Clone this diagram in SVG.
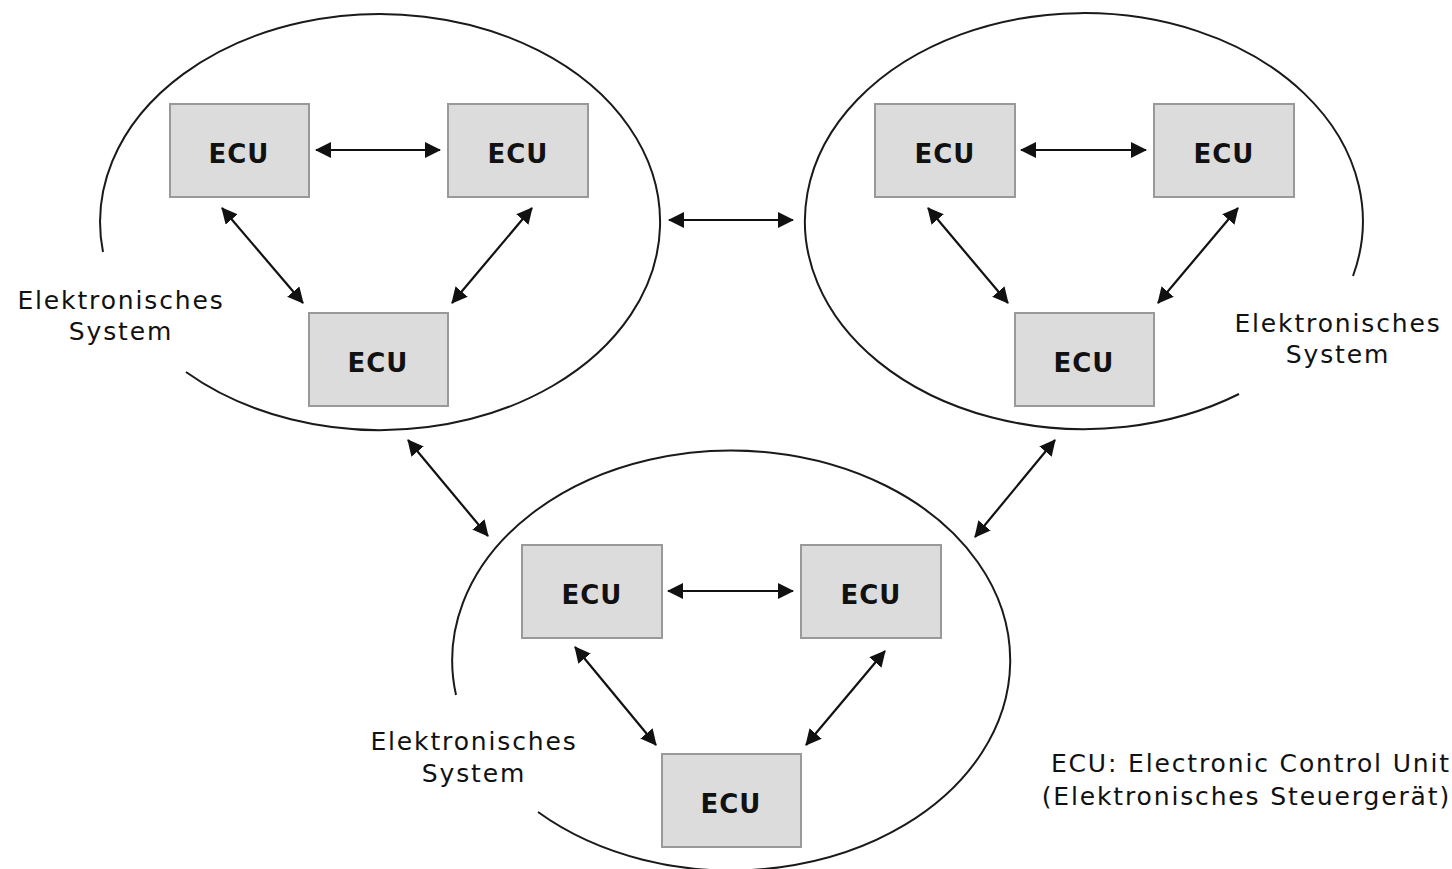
<svg xmlns="http://www.w3.org/2000/svg" width="1452" height="869" viewBox="0 0 1452 869">
  <style>
    .sys { fill: none; stroke: #1a1a1a; stroke-width: 2; }
    .box { fill: #dcdcdc; stroke: #999999; stroke-width: 2; }
    .ecu { font-family: "DejaVu Sans", Verdana, sans-serif; font-weight: bold; font-size: 26px; fill: #111; text-anchor: middle; letter-spacing: 1px; }
    .lbl { font-family: "DejaVu Sans", Verdana, sans-serif; font-size: 25px; fill: #111; letter-spacing: 1.85px; }
    .mid { text-anchor: middle; }
    .end { text-anchor: end; }
    .link { stroke: #111; stroke-width: 2.2; fill: none; marker-start: url(#tip); marker-end: url(#tip); }
  </style>
  <defs>
    <marker id="tip" viewBox="0 0 16 16" markerWidth="16" markerHeight="16" refX="15" refY="8" orient="auto-start-reverse" markerUnits="userSpaceOnUse">
      <path d="M0,0 L16,8 L0,16 Z" fill="#111"/>
    </marker>
  </defs>

  <!-- system outlines, each left open where its caption sits -->
  <g id="system-left">
    <path class="sys" d="M186,372 A280,208 0 1 0 103,252"/>
    <text class="lbl mid" x="121" y="309">Elektronisches</text>
    <text class="lbl mid" x="121" y="340">System</text>
  </g>
  <g id="system-right">
    <path class="sys" d="M1353,276 A279,208 0 1 0 1239,394"/>
    <text class="lbl mid" x="1338" y="332">Elektronisches</text>
    <text class="lbl mid" x="1338" y="363">System</text>
  </g>
  <g id="system-bottom">
    <path class="sys" d="M538,812 A279,210 0 1 0 456,695"/>
    <text class="lbl mid" x="474" y="750">Elektronisches</text>
    <text class="lbl mid" x="474" y="782">System</text>
  </g>

  <!-- control units -->
  <g id="ecu-a1"><rect class="box" x="170" y="104" width="139" height="93"/><text class="ecu" x="239" y="163">ECU</text></g>
  <g id="ecu-a2"><rect class="box" x="448" y="104" width="140" height="93"/><text class="ecu" x="518" y="163">ECU</text></g>
  <g id="ecu-a3"><rect class="box" x="309" y="313" width="139" height="93"/><text class="ecu" x="378" y="372">ECU</text></g>

  <g id="ecu-b1"><rect class="box" x="875" y="104" width="140" height="93"/><text class="ecu" x="945" y="163">ECU</text></g>
  <g id="ecu-b2"><rect class="box" x="1154" y="104" width="140" height="93"/><text class="ecu" x="1224" y="163">ECU</text></g>
  <g id="ecu-b3"><rect class="box" x="1015" y="313" width="139" height="93"/><text class="ecu" x="1084" y="372">ECU</text></g>

  <g id="ecu-c1"><rect class="box" x="522" y="545" width="140" height="93"/><text class="ecu" x="592" y="604">ECU</text></g>
  <g id="ecu-c2"><rect class="box" x="801" y="545" width="140" height="93"/><text class="ecu" x="871" y="604">ECU</text></g>
  <g id="ecu-c3"><rect class="box" x="662" y="754" width="139" height="93"/><text class="ecu" x="731" y="813">ECU</text></g>

  <!-- bidirectional links -->
  <g id="links">
    <line class="link" x1="316" y1="150" x2="440" y2="150"/>
    <line class="link" x1="222" y1="208" x2="303" y2="303"/>
    <line class="link" x1="532" y1="208" x2="452" y2="303"/>

    <line class="link" x1="1021" y1="150" x2="1146" y2="150"/>
    <line class="link" x1="928" y1="208" x2="1008" y2="303"/>
    <line class="link" x1="1238" y1="208" x2="1158" y2="303"/>

    <line class="link" x1="668" y1="591" x2="793" y2="591"/>
    <line class="link" x1="575" y1="647" x2="656" y2="745"/>
    <line class="link" x1="885" y1="651" x2="806" y2="745"/>

    <line class="link" x1="669" y1="220" x2="793" y2="220"/>
    <line class="link" x1="408" y1="440" x2="488" y2="536"/>
    <line class="link" x1="1055" y1="440" x2="975" y2="537"/>
  </g>

  <g id="legend">
    <text class="lbl end" x="1451" y="772">ECU: Electronic Control Unit</text>
    <text class="lbl end" x="1451" y="805">(Elektronisches Steuergerät)</text>
  </g>
</svg>
